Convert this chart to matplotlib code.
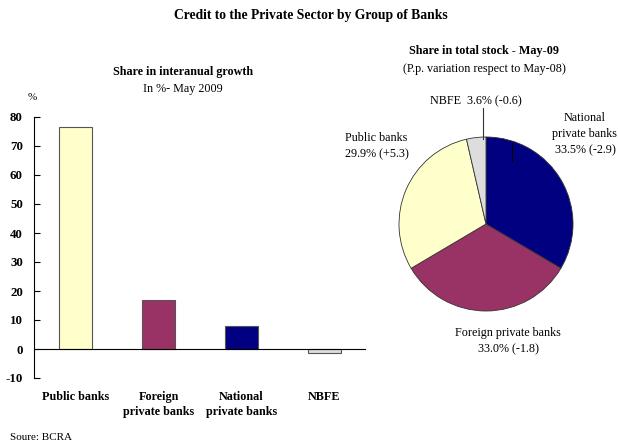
import matplotlib
matplotlib.use("Agg")
import matplotlib.pyplot as plt
from matplotlib.lines import Line2D

plt.rcParams['font.family'] = ['Liberation Serif', 'DejaVu Serif']
plt.rcParams['axes.unicode_minus'] = False

# growth share by group (%)
groups = ["Public banks", "Foreign\nprivate banks", "National\nprivate banks", "NBFE"]
growth = [76.5, 17.0, 8.0, -1.5]
bar_colors = ["#FFFFCC", "#993366", "#000080", "#DDDDDD"]

# stock share, May-09, clockwise from the top
pie_names = ["National private banks", "Foreign private banks", "Public banks", "NBFE"]
pie_share = [33.5, 33.0, 29.9, 3.6]
pie_change = [-2.9, -1.8, 5.3, -0.6]
pie_colors = ["#000080", "#993366", "#FFFFCC", "#DDDDDD"]

W, H = 618, 448
fig = plt.figure(figsize=(W / 100, H / 100), dpi=100)


def fx(px):
    return px / W


def fy(py):
    return 1 - py / H


fig.text(fx(311), fy(15), "Credit to the Private Sector by Group of Banks",
         ha="center", va="center", fontsize=9.8, fontweight="bold")

# --- bar chart
ax = fig.add_axes([fx(34), fy(378), fx(366) - fx(34), fy(117) - fy(378)])
x = range(len(groups))
ax.bar(x, growth, width=0.4, color=bar_colors, edgecolor="#555555", linewidth=0.8, zorder=2)
ax.axhline(0, color="black", linewidth=0.8, zorder=3)
ax.set_xlim(-0.5, len(groups) - 0.5)
ax.set_ylim(-10, 80)
ax.set_yticks(range(-10, 81, 10))
ax.set_xticks(list(x))
ax.set_xticklabels(groups, fontweight="bold", fontsize=8.7, linespacing=1.4)
for lab in ax.get_yticklabels():
    lab.set_fontweight("bold")
ax.tick_params(axis="y", direction="in", length=4, labelsize=9.3, pad=8, width=0.8)
ax.tick_params(axis="x", length=0, pad=9)
for s in ("top", "right", "bottom"):
    ax.spines[s].set_visible(False)
ax.spines["left"].set_linewidth(0.8)

fig.text(fx(183), fy(72), "Share in interanual growth", ha="center", va="center",
         fontsize=8.7, fontweight="bold")
fig.text(fx(183), fy(89), "In %- May 2009", ha="center", va="center", fontsize=8.7)
fig.text(fx(32), fy(97), "%", ha="center", va="center", fontsize=8)

# --- pie chart
cx, cy, r = 486, 224, 87
pax = fig.add_axes([fx(cx - r), fy(cy + r), 2 * r / W, 2 * r / H])
pax.pie(pie_share, colors=pie_colors, startangle=90, counterclock=False,
        wedgeprops=dict(edgecolor="#333333", linewidth=0.6))
pax.set_xlim(-1, 1)
pax.set_ylim(-1, 1)
pax.axis("off")

fig.text(fx(484), fy(51), "Share in total stock - May-09", ha="center", va="center",
         fontsize=8.7, fontweight="bold")
fig.text(fx(484), fy(69), "(P.p. variation respect to May-08)", ha="center", va="center",
         fontsize=8.7)


def fmt(i):
    return f"{pie_share[i]:.1f}% ({pie_change[i]:+.1f})"


fig.text(fx(585), fy(134), "National\nprivate banks\n" + fmt(0), ha="center", va="center",
         fontsize=8.7, linespacing=1.45)
fig.text(fx(508), fy(341), "Foreign private banks\n" + fmt(1), ha="center", va="center",
         fontsize=8.7, linespacing=1.45)
fig.text(fx(345), fy(146), "Public banks\n" + fmt(2), ha="left", va="center",
         fontsize=8.7, linespacing=1.45)
fig.text(fx(476), fy(101), "NBFE  " + fmt(3), ha="center", va="center", fontsize=8.7)

# leader lines
fig.add_artist(Line2D([fx(483), fx(483)], [fy(108), fy(139)], color="#333333", linewidth=0.8))
fig.add_artist(Line2D([fx(512), fx(512)], [fy(143), fy(161)], color="black", linewidth=0.8))

fig.text(fx(10), fy(437), "Soure: BCRA", ha="left", va="center", fontsize=8)

fig.savefig("out.png", dpi=100)
